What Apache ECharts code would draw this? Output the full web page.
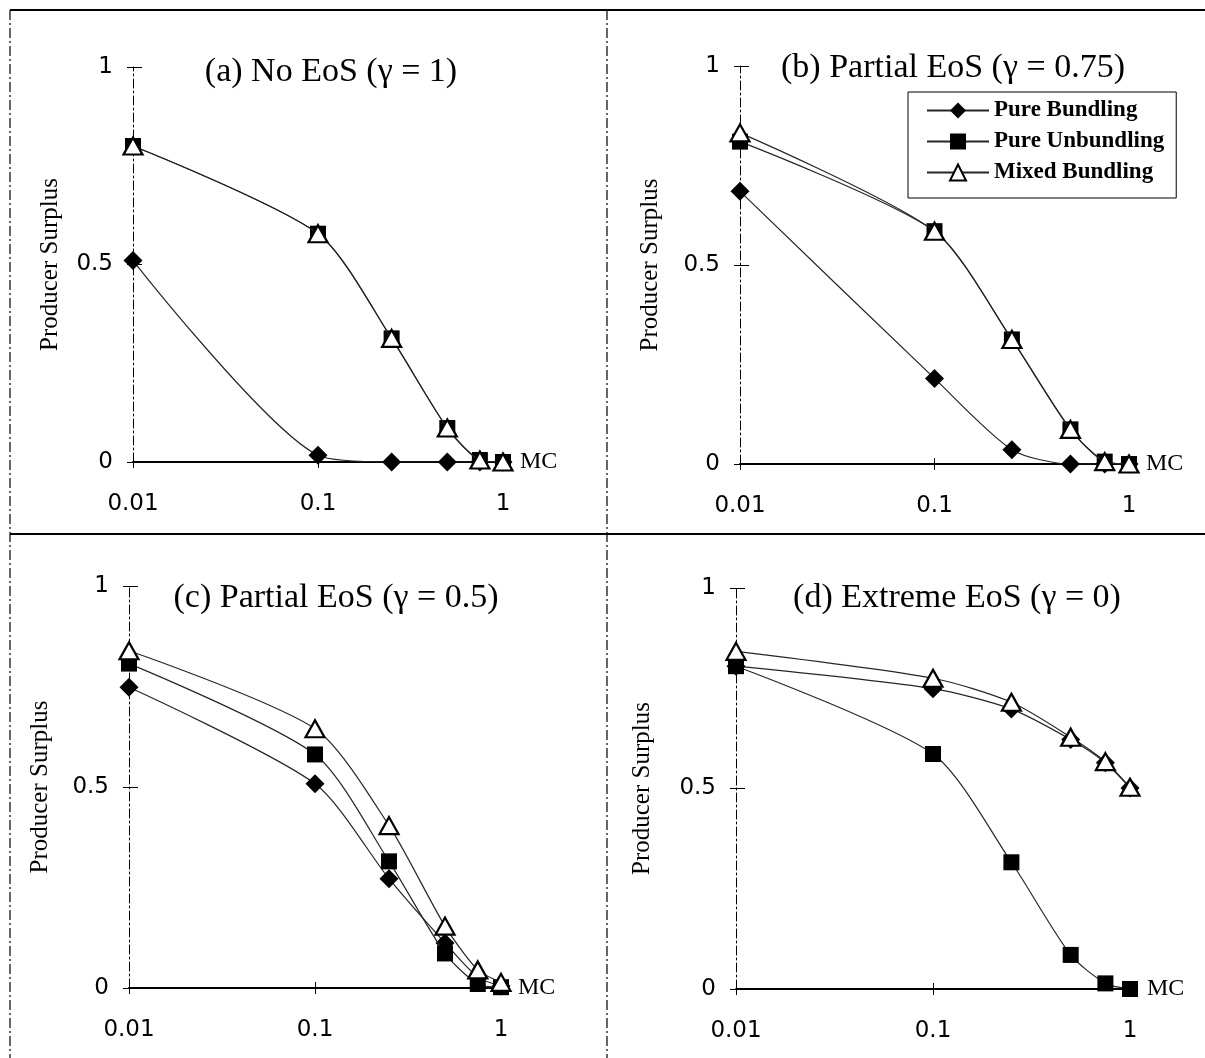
<!DOCTYPE html>
<html>
<head>
<meta charset="utf-8">
<script src="https://cdn.jsdelivr.net/npm/echarts@6/dist/echarts.min.js"></script>
<style>
  html, body { margin: 0; padding: 0; background: #fff; }
  #chart { width: 1205px; height: 1058px; }
</style>
</head>
<body>
<div id="chart"></div>
<script>
// marginal cost (x) values, same for every panel
const mcValues = [0.01, 0.1, 0.25, 0.5, 0.75, 1];
const yTicks = [0, 0.5, 1];
const seriesNames = ['Pure Bundling', 'Pure Unbundling', 'Mixed Bundling'];
const panelTitles = [
  '(a) No EoS (\u03b3 = 1)',
  '(b) Partial EoS (\u03b3 = 0.75)',
  '(c) Partial EoS (\u03b3 = 0.5)',
  '(d) Extreme EoS (\u03b3 = 0)'
];

// (a) gamma = 1
const bundlingA   = [0.51, 0.017, 0, 0, 0, 0];
const unbundlingA = [0.80, 0.578, 0.313, 0.086, 0.005, 0];
const mixedA      = [0.80, 0.578, 0.313, 0.086, 0.005, 0];
// (b) gamma = 0.75
const bundlingB   = [0.685, 0.215, 0.036, 0, 0, 0];
const unbundlingB = [0.81, 0.585, 0.313, 0.087, 0.006, 0];
const mixedB      = [0.832, 0.585, 0.313, 0.087, 0.006, 0];
// (c) gamma = 0.5
const bundlingC   = [0.748, 0.508, 0.272, 0.112, 0.027, 0.005];
const unbundlingC = [0.807, 0.581, 0.315, 0.086, 0.01, 0.002];
const mixedC      = [0.839, 0.645, 0.404, 0.154, 0.045, 0.014];
// (d) gamma = 0
const bundlingD   = [0.805, 0.749, 0.698, 0.622, 0.564, 0.501];
const unbundlingD = [0.805, 0.586, 0.316, 0.085, 0.014, 0];
const mixedD      = [0.842, 0.775, 0.715, 0.628, 0.567, 0.503];

const panels = [
  [bundlingA, unbundlingA, mixedA],
  [bundlingB, unbundlingB, mixedB],
  [bundlingC, unbundlingC, mixedC],
  [bundlingD, unbundlingD, mixedD]
];

// layout
const grids = [
  { left: 133, top: 67, width: 370, height: 395 },
  { left: 740, top: 66, width: 389, height: 398 },
  { left: 129, top: 586, width: 372, height: 402 },
  { left: 736, top: 588, width: 394, height: 401 }
];
const titlePos = [[331, 72], [953, 68], [336, 598], [957, 598]];
const nameGaps = [70, 77, 76, 81];

const serif = 'Liberation Serif';
const sans = 'DejaVu Sans';
const lineColor = '#262626';

const markerStyles = [
  { symbol: 'diamond', symbolSize: 19, itemStyle: { color: '#000' } },
  { symbol: 'rect', symbolSize: 16, itemStyle: { color: '#000' } },
  { symbol: 'triangle', symbolSize: [19, 17], itemStyle: { color: '#fff', borderColor: '#000', borderWidth: 2.2 } }
];

const xAxes = [];
const yAxes = [];
const series = [];

grids.forEach(function (g, i) {
  // main x axis (labels, outside ticks)
  xAxes.push({
    gridIndex: i, type: 'log', logBase: 10, min: 0.01, max: 1, position: 'bottom',
    name: 'MC', nameLocation: 'end', nameGap: 17,
    nameTextStyle: { fontFamily: serif, fontSize: 24, color: '#000' },
    axisLine: { lineStyle: { color: '#000', width: 1.8 } },
    axisTick: { length: 6, lineStyle: { color: '#000' } },
    minorTick: { show: false },
    axisLabel: { margin: 31, fontFamily: sans, fontSize: 23, color: '#000' },
    splitLine: { show: false }
  });
  // overlay x axis, inside ticks only
  xAxes.push({
    gridIndex: i, type: 'log', logBase: 10, min: 0.01, max: 1, position: 'bottom',
    axisLine: { show: false },
    axisTick: { inside: true, length: 6, lineStyle: { color: '#000' } },
    axisLabel: { show: false },
    splitLine: { show: false }
  });
  yAxes.push({
    gridIndex: i, type: 'value', min: 0, max: 1, interval: 0.5, position: 'left',
    name: 'Producer Surplus', nameLocation: 'middle', nameRotate: 90, nameGap: nameGaps[i],
    nameTextStyle: { fontFamily: serif, fontSize: 25, color: '#000' },
    axisLine: { lineStyle: { color: '#000', width: 1, type: [9, 3, 2, 3] } },
    axisTick: { length: 6, lineStyle: { color: '#000' } },
    axisLabel: { margin: 20, fontFamily: sans, fontSize: 23, color: '#000' },
    splitLine: { show: false }
  });
  yAxes.push({
    gridIndex: i, type: 'value', min: 0, max: 1, interval: 0.5, position: 'left',
    axisLine: { show: false },
    axisTick: { inside: true, length: 9, lineStyle: { color: '#000' } },
    axisLabel: { show: false },
    splitLine: { show: false }
  });

  panels[i].forEach(function (vals, k) {
    series.push(Object.assign({
      name: seriesNames[k],
      type: 'line',
      xAxisIndex: 2 * i,
      yAxisIndex: 2 * i,
      smooth: 0.25,
      showAllSymbol: true,
      lineStyle: { color: lineColor, width: 1.2 },
      data: mcValues.map(function (x, j) { return [x, vals[j]]; }),
      z: 3 + k
    }, markerStyles[k]));
  });
});

const graphics = [
  // frame of the figure table
  { type: 'line', shape: { x1: 10, y1: 10, x2: 1205, y2: 10 }, style: { stroke: '#000', lineWidth: 2 } },
  { type: 'line', shape: { x1: 10, y1: 534, x2: 1205, y2: 534 }, style: { stroke: '#000', lineWidth: 2 } },
  { type: 'line', shape: { x1: 10, y1: 10, x2: 10, y2: 1058 }, style: { stroke: '#000', lineWidth: 1.2, lineDash: [10, 3, 2, 3] } },
  { type: 'line', shape: { x1: 607, y1: 10, x2: 607, y2: 1058 }, style: { stroke: '#000', lineWidth: 1.2, lineDash: [10, 3, 2, 3] } }
];
panelTitles.forEach(function (t, i) {
  graphics.push({
    type: 'text', x: titlePos[i][0], y: titlePos[i][1], z: 10,
    style: { text: t, fontFamily: serif, fontSize: 34, fill: '#000', textAlign: 'center', textVerticalAlign: 'middle' }
  });
});

const chart = echarts.init(document.getElementById('chart'));
chart.setOption({
  animation: false,
  backgroundColor: '#fff',
  grid: grids,
  xAxis: xAxes,
  yAxis: yAxes,
  legend: {
    data: seriesNames,
    selectedMode: false,
    orient: 'vertical',
    left: 908, top: 92,
    padding: [7, 12, 14, 18],
    itemWidth: 62, itemHeight: 20, itemGap: 8,
    borderColor: '#000', borderWidth: 1,
    backgroundColor: '#fff',
    textStyle: { fontFamily: serif, fontSize: 23, fontWeight: 'bold', color: '#000' }
  },
  graphic: graphics,
  series: series
});
</script>
</body>
</html>
